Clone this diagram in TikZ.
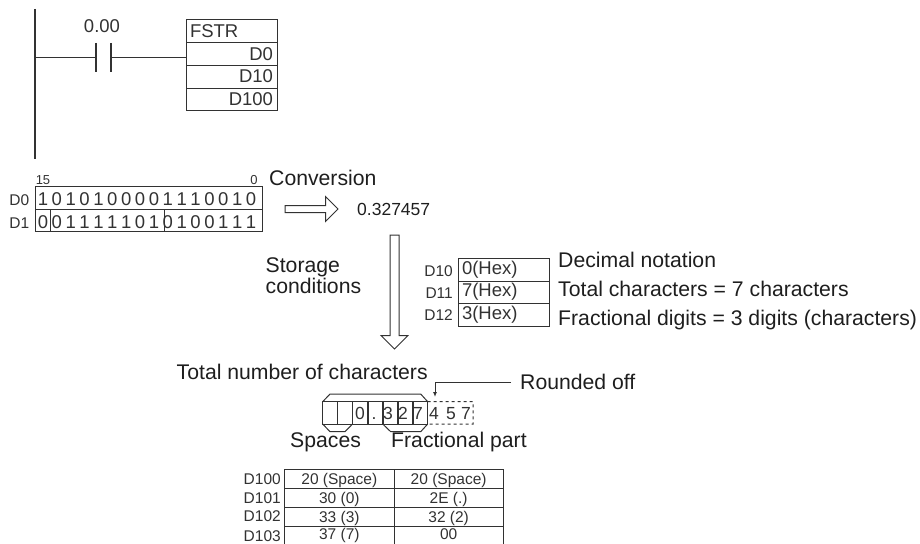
\documentclass[tikz,border=0pt]{standalone}
\usepackage{fontspec}
\setmainfont{Liberation Sans}
\usepackage{xcolor}
\usetikzlibrary{arrows.meta,shapes.arrows}
\definecolor{inkgray}{RGB}{50,50,50}
\definecolor{inkdark}{RGB}{30,30,30}
\tikzset{
  note/.style={anchor=base west, inner sep=0pt, font=\fontsize{21.2}{21.2}\selectfont, text=inkdark},
  smalltag/.style={anchor=base east, inner sep=0pt, font=\fontsize{15.5}{15.5}\selectfont, text=inkgray},
  tinytag/.style={anchor=base, inner sep=0pt, font=\fontsize{13}{13}\selectfont, text=inkgray},
  bit/.style={anchor=base, inner sep=0pt, font=\fontsize{18.5}{18.5}\selectfont, text=inkgray},
  cell/.style={draw=inkgray, line width=1.0pt, inner sep=0pt, outer sep=0pt, font=\fontsize{15.5}{15.5}\selectfont, text=inkgray},
  instr/.style={cell, anchor=north west, minimum width=91pt, text width=83pt, inner xsep=4pt, font=\fontsize{18.5}{18.5}\selectfont},
  wire/.style={draw=inkgray, line width=1.2pt},
  thinwire/.style={draw=inkgray, line width=1.0pt},
  leader/.style={draw=inkgray, line width=1.0pt, -{Latex[length=5pt,width=4pt]}},
  hollow/.style={single arrow, draw=inkgray, line width=1.0pt, fill=white, single arrow head extend=9pt, outer sep=0pt}
}
\begin{document}
\begin{tikzpicture}[x=1pt,y=-1pt]
  \useasboundingbox (0,0) rectangle (920,543);

  % ladder rung
  \coordinate (railtop) at (35,9);
  \coordinate (railbot) at (35,159);
  \coordinate (railtap) at (35,57.5);
  \coordinate (contactl) at (96,57.5);
  \coordinate (contactr) at (111,57.5);
  \draw[wire] (railtop) -- (railbot);
  \draw[wire] (railtap) -- (contactl);
  \draw[wire] (96,43) -- (96,72);
  \draw[wire] (111,43) -- (111,72);
  \node[bit] (bitaddr) at (102,33) {0.00};

  \node[instr, minimum height=23pt, align=left] (fstr) at (186,20) {FSTR};
  \node[instr, minimum height=22pt, align=right] (src) at (186,43) {D0};
  \node[instr, minimum height=23pt, align=right] (ctl) at (186,65) {D10};
  \node[instr, minimum height=22pt, align=right] (dst) at (186,88) {D100};
  \draw[wire] (contactr) -- (contactr -| fstr.west);

  % source words
  \node[tinytag] (msb) at (43,184) {15};
  \node[tinytag] (lsb) at (254,184) {0};
  \node[smalltag] (dzero) at (29.5,205) {D0};
  \node[smalltag] (done) at (29.5,228) {D1};
  \node[cell, minimum width=227pt, minimum height=23pt, anchor=north west] (wordzero) at (35,186) {};
  \node[cell, minimum width=15pt, minimum height=22pt, anchor=north west] (signcell) at (35,209) {};
  \node[cell, minimum width=114pt, minimum height=22pt, anchor=north west] (expcell) at (50,209) {};
  \node[cell, minimum width=98pt, minimum height=22pt, anchor=north west] (mantcell) at (164,209) {};
  \foreach \b [count=\i from 0] in {1,0,1,0,1,0,0,0,0,1,1,1,0,0,1,0}
    \node[bit] (a\i) at ({43+13.87*\i},205) {\b};
  \foreach \b [count=\i from 0] in {0,0,1,1,1,1,1,0,1,0,1,0,0,1,1,1}
    \node[bit] (b\i) at ({43+13.87*\i},228) {\b};

  % conversion
  \node[note] (conv) at (269,185.5) {Conversion};
  \node[hollow, minimum height=53pt, minimum width=24pt, inner sep=3pt, anchor=west] (convarrow) at (285,209) {};
  \node[note, font=\fontsize{17.5}{17.5}\selectfont] (value) at (357,215) {0.327457};

  % storage
  \node[hollow, shape border rotate=270, minimum height=114pt, minimum width=24pt, inner sep=4pt, anchor=north] (storearrow) at (394.5,235) {};
  \node[note] (stora) at (265.5,272.7) {Storage};
  \node[note] (storb) at (265.5,293.3) {conditions};

  \node[smalltag] (dten) at (453,276) {D10};
  \node[smalltag] (delev) at (453,298) {D11};
  \node[smalltag] (dtwel) at (453,320) {D12};
  \foreach \n/\t/\h/\y in {hexa/0/23/258, hexb/7/22/281, hexc/3/23/303}
    \node[instr, minimum height=\h pt, align=left] (\n) at (458,\y) {\t(Hex)};
  \node[note] (notea) at (558,267.7) {Decimal notation};
  \node[note] (noteb) at (558,296.7) {Total characters = 7 characters};
  \node[note] (notec) at (558,325) {Fractional digits = 3 digits (characters)};

  % characters
  \node[note] (total) at (176.5,379) {Total number of characters};
  \node[note] (round) at (520,389) {Rounded off};
  \coordinate (bend) at (435,382.5);
  \coordinate (roundend) at (511,382.5);
  \coordinate (roundtip) at (435,397);
  \draw[thinwire] (roundend) -- (bend);
  \draw[leader] (bend) -- (roundtip);

  \foreach \x [count=\i] in {322.7,337.5,352.7,368,382.7,398,412.7}
    \node[cell, anchor=north west, minimum width=15pt, minimum height=22.3pt] (ch\i) at (\x,401.7) {};
  \draw[thinwire, dashed] (ch7.north east) -- (473,401.7) -- (473,424) -- (ch7.south east);
  \foreach \x/\t in {360/0,374/.,388/3,403/2,418/7,434/4,451/5,466/7}
    \node[bit, font=\fontsize{17.5}{17.5}\selectfont] at (\x,419) {\t};
  \draw[thinwire] (ch1.north west) -- (330,394) -- (420.7,394) -- (ch7.north east);
  \draw[thinwire] (ch1.south west) -- (330,431.7) -- (345,431.7) -- (ch2.south east);
  \draw[thinwire] (ch5.south west) -- (390.7,431.7) -- (420.7,431.7) -- (ch7.south east);
  \node[note] (spaces) at (290,447) {Spaces};
  \node[note] (frac) at (391,447) {Fractional part};

  % result table
  \foreach \n/\y/\h/\d/\l/\r in {ra/469/19.3/1/20 (Space)/20 (Space), rb/488.3/18.7/1/30 (0)/2E (.), rc/507/19.7/1/33 (3)/32 (2), rd/526.7/18/5/37 (7)/00}{
    \node[cell, anchor=north west, minimum width=110pt, minimum height=\h pt, text height=13pt, text depth=\d pt] (\n l) at (284.3,\y) {\l};
    \node[cell, anchor=north west, minimum width=108.7pt, minimum height=\h pt, text height=13pt, text depth=\d pt] (\n r) at (394.3,\y) {\r};
  }
  \foreach \t/\y in {D100/484, D101/503, D102/521, D103/541}
    \node[smalltag] at (281,\y) {\t};
\end{tikzpicture}
\end{document}
